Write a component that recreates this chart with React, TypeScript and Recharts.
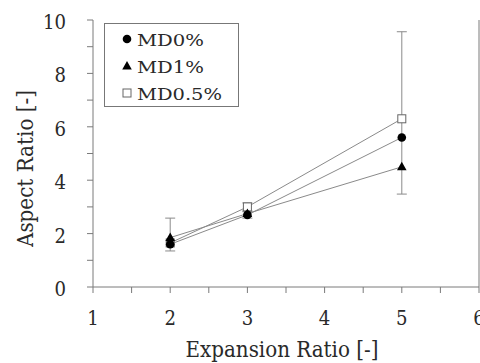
import React from 'react';
import { ComposedChart, Line, XAxis, YAxis, ErrorBar } from 'recharts';

const expansionRatio = [2, 3, 5];
const md0 = [1.6, 2.7, 5.6];
const md1 = [1.85, 2.75, 4.5];
const md05 = [1.65, 3.0, 6.3];
const md0Err: ([number, number] | null)[] = [null, [0.12, 0.12], null];
const md1Err: ([number, number] | null)[] = [[0.5, 0.73], null, null];
const md05Err: ([number, number] | null)[] = [null, [0.15, 0.15], [2.82, 3.26]];
const seriesNames = ['MD0%', 'MD1%', 'MD0.5%'];
const xTicks = [1, 1.5, 2, 2.5, 3, 3.5, 4, 4.5, 5, 5.5, 6];
const yTicks = [0, 1, 2, 3, 4, 5, 6, 7, 8, 9, 10];
const xTitle = 'Expansion Ratio [-]';
const yTitle = 'Aspect Ratio [-]';

const data = expansionRatio.map((x, i) => ({
  x,
  md0: md0[i],
  md1: md1[i],
  md05: md05[i],
  md0Err: md0Err[i],
  md1Err: md1Err[i],
  md05Err: md05Err[i],
}));

const FONT = 'DejaVu Serif';
const AXIS = '#7a7a7a';
const LINE = '#8a8a8a';
const TEXT = '#2a2a2a';

const CircleDot = (p: any) => <circle cx={p.cx} cy={p.cy} r={4.3} fill="#000" />;
const TriDot = (p: any) => (
  <polygon points={`${p.cx},${p.cy - 5} ${p.cx - 4.8},${p.cy + 3.5} ${p.cx + 4.8},${p.cy + 3.5}`} fill="#000" />
);
const SquareDot = (p: any) => (
  <rect x={p.cx - 4} y={p.cy - 4} width={8} height={8} fill="#fff" stroke="#666" strokeWidth={1} />
);

const XTick = (p: any) => {
  const v = p.payload.value;
  if (!Number.isInteger(v)) return <g />;
  const s = String(v);
  return (
    <text x={p.x} y={p.y + 16} textAnchor="middle" fontFamily={FONT} fontSize={20} fill={TEXT}
      textLength={s.length * 11.5} lengthAdjust="spacingAndGlyphs">
      {s}
    </text>
  );
};

const YTick = (p: any) => {
  const v = p.payload.value;
  if (v % 2 !== 0) return <g />;
  const s = String(v);
  return (
    <text x={p.x} y={p.y + 9} textAnchor="end" fontFamily={FONT} fontSize={20} fill={TEXT}
      textLength={s.length * 11.5} lengthAdjust="spacingAndGlyphs">
      {s}
    </text>
  );
};

const legendWidths = [67, 67, 85];

const LegendBox = () => (
  <svg width={480} height={363} style={{ position: 'absolute', left: 0, top: 0, pointerEvents: 'none' }}>
    <rect x={104.5} y={23.5} width={134} height={83} fill="#fff" stroke="#777" strokeWidth={1} />
    {seriesNames.map((n, i) => {
      const cy = 39 + i * 27;
      return (
        <g key={n}>
          {i === 0 && <circle cx={127} cy={cy} r={4.3} fill="#000" />}
          {i === 1 && <polygon points={`127,${cy - 5} 122.2,${cy + 3.5} 131.8,${cy + 3.5}`} fill="#000" />}
          {i === 2 && <rect x={123} y={cy - 4} width={8} height={8} fill="#fff" stroke="#666" />}
          <text x={137} y={cy + 6.5} fontFamily={FONT} fontSize={17} fill={TEXT}
            textLength={legendWidths[i]} lengthAdjust="spacingAndGlyphs">
            {n}
          </text>
        </g>
      );
    })}
  </svg>
);

const XTitle = (props: any) => {
  const vb = props.viewBox;
  return (
    <text x={vb.x + vb.width / 2 - 4} y={vb.y + vb.height} textAnchor="middle" fontFamily={FONT} fontSize={22} fill={TEXT}
      textLength={193} lengthAdjust="spacingAndGlyphs">
      {xTitle}
    </text>
  );
};

const YTitle = (props: any) => {
  const vb = props.viewBox;
  const cx = 33;
  const cy = vb.y + vb.height / 2 + 15;
  return (
    <text x={cx} y={cy} textAnchor="middle" fontFamily={FONT} fontSize={22} fill={TEXT} transform={`rotate(-90 ${cx} ${cy})`}
      textLength={157} lengthAdjust="spacingAndGlyphs">
      {yTitle}
    </text>
  );
};

export default function App() {
  return (
    <div style={{ position: 'absolute', left: 0, top: 0, width: 480, height: 363, background: '#fff' }}>
      <ComposedChart width={480} height={363} data={data} margin={{ top: 20, right: 1, bottom: 6, left: 0 }}>
        <XAxis
          xAxisId="b"
          dataKey="x"
          type="number"
          domain={[1, 6]}
          ticks={xTicks}
          interval={0}
          height={70}
          stroke={AXIS}
          tickSize={6}
          tickMargin={16}
          tick={<XTick />}
          label={<XTitle />}
        />
        <XAxis
          xAxisId="t"
          orientation="top"
          dataKey="x"
          type="number"
          domain={[1, 6]}
          ticks={xTicks}
          interval={0}
          height={0}
          stroke={AXIS}
          tickSize={6}
          tick={false}
        />
        <YAxis
          yAxisId="l"
          type="number"
          domain={[0, 10]}
          ticks={yTicks}
          interval={0}
          width={93}
          stroke={AXIS}
          tickSize={6}
          tickMargin={21}
          tick={<YTick />}
          label={<YTitle />}
        />
        <YAxis
          yAxisId="r"
          orientation="right"
          type="number"
          domain={[0, 10]}
          ticks={yTicks}
          interval={0}
          width={1}
          mirror
          stroke={AXIS}
          tickSize={6}
          tick={false}
        />
        <Line xAxisId="b" yAxisId="l" dataKey="md05" name={seriesNames[2]} stroke={LINE} strokeWidth={1} dot={<SquareDot />} isAnimationActive={false}>
          <ErrorBar dataKey="md05Err" direction="y" width={5} stroke={LINE} strokeWidth={1} />
        </Line>
        <Line xAxisId="b" yAxisId="l" dataKey="md1" name={seriesNames[1]} stroke={LINE} strokeWidth={1} dot={<TriDot />} isAnimationActive={false}>
          <ErrorBar dataKey="md1Err" direction="y" width={5} stroke={LINE} strokeWidth={1} />
        </Line>
        <Line xAxisId="b" yAxisId="l" dataKey="md0" name={seriesNames[0]} stroke={LINE} strokeWidth={1} dot={<CircleDot />} isAnimationActive={false}>
          <ErrorBar dataKey="md0Err" direction="y" width={5} stroke={LINE} strokeWidth={1} />
        </Line>
      </ComposedChart>
      <LegendBox />
    </div>
  );
}
